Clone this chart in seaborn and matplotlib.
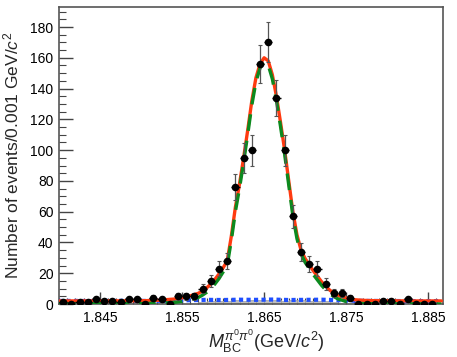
import numpy as np
import pandas as pd
import matplotlib
matplotlib.use("Agg")
import matplotlib.pyplot as plt
import seaborn as sns
from matplotlib.ticker import MultipleLocator

# ---- data ----
bin_centers = [round(1.8405 + 0.001 * i, 4) for i in range(46)]
counts = [1, 0, 1, 1, 3, 2, 2, 1, 3, 3, 0, 4, 3, 0, 5, 5, 5, 10, 15, 23, 28,
          76, 95, 100, 156, 170, 134, 100, 57, 34, 26, 23, 13, 7, 7, 4,
          0, 0, 0, 2, 2, 0, 3, 0, 0, 0]

curve_x = [1.8400, 1.8450, 1.8500, 1.8520, 1.8540, 1.8550, 1.8560, 1.8570,
           1.8575, 1.8580, 1.8585, 1.8590, 1.8595, 1.8600, 1.8605, 1.8610,
           1.8615, 1.8620, 1.8625, 1.8630, 1.8635, 1.8640, 1.8645, 1.8650,
           1.8655, 1.8660, 1.8665, 1.8670, 1.8675, 1.8680, 1.8685, 1.8690,
           1.8695, 1.8700, 1.8705, 1.8710, 1.8715, 1.8720, 1.8725, 1.8730,
           1.8735, 1.8740, 1.8750, 1.8760, 1.8770, 1.8780, 1.8800, 1.8830,
           1.8866]
total_fit = [2.0, 2.0, 2.1, 2.4, 3.2, 4.0, 5.3, 7.0,
             8.6, 10.5, 13.0, 16.0, 19.5, 23.5, 28.0, 44.0,
             63.0, 78.0, 95.0, 113.0, 132.0, 147.0, 156.0, 160.0,
             158.0, 149.0, 135.0, 118.0, 100.0, 80.0, 60.0, 45.0,
             35.0, 29.5, 25.5, 21.5, 18.0, 14.5, 11.5, 9.0,
             7.0, 5.5, 3.8, 2.8, 2.4, 2.2, 2.1, 2.0,
             2.0]
signal_fit = [0.1, 0.2, 0.3, 0.5, 1.0, 1.7, 2.8, 4.3,
              5.8, 7.6, 10.0, 13.0, 16.5, 20.8, 25.2, 41.2,
              60.2, 75.2, 92.2, 110.2, 129.2, 144.3, 153.3, 157.3,
              155.3, 146.3, 132.3, 115.3, 97.3, 77.3, 57.4, 42.5,
              32.5, 27.0, 23.1, 19.1, 15.6, 12.1, 9.2, 6.7,
              4.8, 3.3, 1.6, 0.7, 0.3, 0.2, 0.1, 0.1,
              0.0]

bkg_x = [1.8400, 1.8420, 1.8440, 1.8460, 1.8480, 1.8500, 1.8520, 1.8540,
         1.8560, 1.8580, 1.8600, 1.8620, 1.8640, 1.8660, 1.8680, 1.8700,
         1.8720, 1.8740, 1.8760, 1.8780, 1.8800, 1.8820, 1.8840, 1.8866]
bkg_fit = [2.0, 2.0, 1.9, 2.0, 2.1, 2.0, 2.1, 2.2,
           2.5, 2.7, 2.6, 2.8, 2.7, 2.9, 2.6, 2.7,
           2.8, 2.5, 2.1, 2.0, 2.0, 1.9, 1.9, 1.9]

gray_bins = [1.8575, 1.8585, 1.8595, 1.8605, 1.8615, 1.8625, 1.8635, 1.8645,
             1.8655, 1.8665, 1.8675, 1.8685, 1.8695, 1.8705, 1.8715, 1.8725,
             1.8735]
gray_vals = [1.5, 2.0, 2.2, 2.0, 2.4, 2.2, 2.5, 2.3, 2.6, 2.4, 2.2, 2.5, 2.3,
             2.1, 2.0, 1.8, 1.5]

# ---- figure ----
sns.set_theme(style="white")
plt.rcParams['font.family'] = ['Liberation Sans', 'DejaVu Sans']
plt.rcParams['mathtext.fontset'] = 'custom'
plt.rcParams['mathtext.rm'] = 'Liberation Sans'
plt.rcParams['mathtext.it'] = 'Liberation Sans:italic'

fig = plt.figure(figsize=(4.57, 3.57), dpi=100)
ax = fig.add_axes([59 / 457, 1 - 304 / 357, (443 - 59) / 457, (304 - 7) / 357])

ax.bar(gray_bins, gray_vals, width=0.001, color='#bdbdbd', edgecolor='#a0a0a0',
       linewidth=0.5, zorder=1)

df_bkg = pd.DataFrame({'x': bkg_x, 'y': bkg_fit})
sns.lineplot(data=df_bkg, x='x', y='y', ax=ax, color='#1f4fff', lw=3.0,
             linestyle=(0, (1, 0.8)), zorder=3)

df_tot = pd.DataFrame({'x': curve_x, 'y': total_fit})
sns.lineplot(data=df_tot, x='x', y='y', ax=ax, color='#ff3a10', lw=2.4, zorder=4)
df_sig = pd.DataFrame({'x': curve_x, 'y': signal_fit})
sns.lineplot(data=df_sig, x='x', y='y', ax=ax, color='#0b8a1e', lw=2.4,
             linestyle=(0, (5, 3)), zorder=5)

c = np.array(counts, dtype=float)
err = np.sqrt(c)
ax.errorbar(bin_centers, c, yerr=err, fmt='none', ecolor='#555555', elinewidth=0.9,
            capsize=1.5, capthick=0.8, zorder=6)
ax.errorbar(bin_centers, c, xerr=0.0005, fmt='none', ecolor='black', elinewidth=1.0,
            zorder=6)
df_pts = pd.DataFrame({'x': bin_centers, 'y': counts})
sns.scatterplot(data=df_pts, x='x', y='y', ax=ax, color='black', s=30,
                edgecolor='black', linewidth=0, zorder=7)

ax.set_xlim(1.840, 1.8868)
ax.set_ylim(0, 193)
ax.xaxis.set_major_locator(MultipleLocator(0.01))
ax.xaxis.set_minor_locator(MultipleLocator(0.001))
ax.yaxis.set_major_locator(MultipleLocator(20))
ax.yaxis.set_minor_locator(MultipleLocator(5))
ax.set_xticks([1.845, 1.855, 1.865, 1.875, 1.885])
ax.set_xticklabels(['1.845', '1.855', '1.865', '1.875', '1.885'])
ax.tick_params(axis='both', which='both', direction='in', top=False, right=False,
               bottom=True, left=True, labelsize=10, colors='#444444',
               labelcolor='black')
ax.tick_params(axis='y', which='major', length=10, width=1, pad=4)
ax.tick_params(axis='y', which='minor', length=5, width=0.8)
ax.tick_params(axis='x', which='major', length=9, width=1, pad=5)
ax.tick_params(axis='x', which='minor', length=4, width=0.8)
for s in ax.spines.values():
    s.set_color('#555555')
    s.set_linewidth(1.2)

ax.set_xlabel(r'$M_{\mathrm{BC}}^{\pi^0\pi^0}$(GeV/$c^2$)', fontsize=13, labelpad=2,
              x=0.54)
ax.set_ylabel(r'Number of events/0.001 GeV/$c^2$', fontsize=12.5, labelpad=6)

fig.savefig('out.png', dpi=100)
